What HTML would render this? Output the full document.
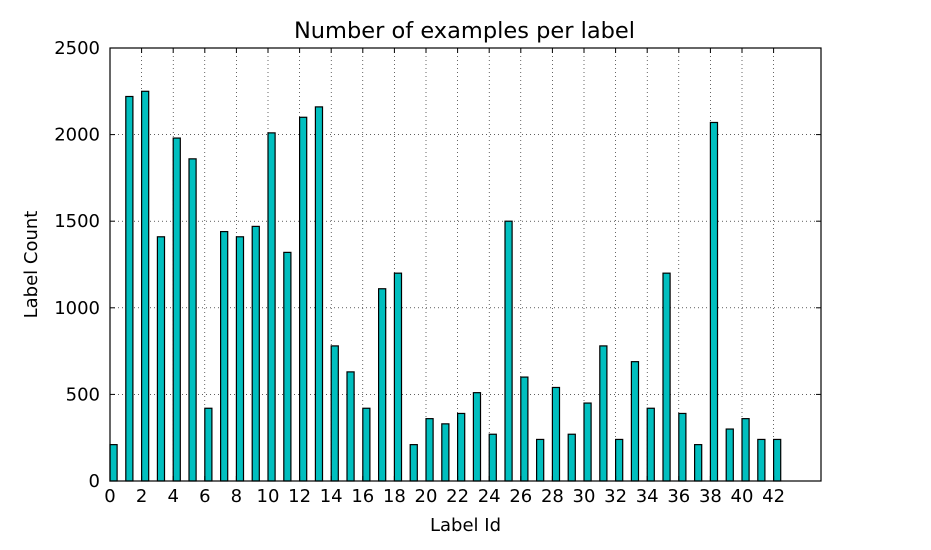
<!DOCTYPE html>
<html><head><meta charset="utf-8"><style>
body{margin:0;background:#fff;font-family:"DejaVu Sans","Liberation Sans",sans-serif}
</style></head><body>
<svg id="chart" width="931" height="546" xmlns="http://www.w3.org/2000/svg"></svg>
<script>
const labels=[0,1,2,3,4,5,6,7,8,9,10,11,12,13,14,15,16,17,18,19,20,21,22,23,24,25,26,27,28,29,30,31,32,33,34,35,36,37,38,39,40,41,42];
const counts=[210,2220,2250,1410,1980,1860,420,1440,1410,1470,2010,1320,2100,2160,780,630,420,1110,1200,210,360,330,390,510,270,1500,600,240,540,270,450,780,240,689,420,1200,390,210,2070,300,360,240,240];
const xTicks=[0,2,4,6,8,10,12,14,16,18,20,22,24,26,28,30,32,34,36,38,40,42];
const yTicks=[0,500,1000,1500,2000,2500];
const L=110,R=821,T=48,B=481,XMAX=45,YMAX=2500;
const x=v=>L+(v/XMAX)*(R-L);
const y=v=>B-(v/YMAX)*(B-T);
const svg=document.getElementById('chart');
const NS='http://www.w3.org/2000/svg';
function mk(tag,attrs,parent){const e=document.createElementNS(NS,tag);for(const k in attrs)e.setAttribute(k,attrs[k]);(parent||svg).appendChild(e);return e;}
const grid=mk('g',{});


xTicks.forEach(t=>{mk('line',{x1:x(t),x2:x(t),y1:T,y2:B,stroke:'#000','stroke-width':0.6,'stroke-dasharray':'1,3'},grid);});
yTicks.forEach(t=>{mk('line',{x1:L,x2:R,y1:y(t),y2:y(t),stroke:'#000','stroke-width':0.6,'stroke-dasharray':'1,3'},grid);});
const bars=mk('g',{});


labels.forEach((l,i)=>{
  const r=mk('rect',{x:x(l),y:y(counts[i]),width:x(0.45)-x(0),height:y(0)-y(counts[i]),fill:'#00bfbf',stroke:'#000','stroke-width':1.2},bars);
  
  
});
const frame=mk('rect',{x:L,y:T,width:R-L,height:B-T,fill:'none',stroke:'#000','stroke-width':1.2});


xTicks.forEach(t=>{
  mk('line',{x1:x(t),x2:x(t),y1:B,y2:B-5,stroke:'#000'});
  mk('line',{x1:x(t),x2:x(t),y1:T,y2:T+5,stroke:'#000'});
  const tx=mk('text',{x:x(t),y:B+21,'text-anchor':'middle','font-size':18});
  tx.textContent=t;
  
  
});
yTicks.forEach(t=>{
  mk('line',{x1:L,x2:L+5,y1:y(t),y2:y(t),stroke:'#000'});
  mk('line',{x1:R,x2:R-5,y1:y(t),y2:y(t),stroke:'#000'});
  const tx=mk('text',{x:L-10,y:y(t)+6,'text-anchor':'end','font-size':18});
  tx.textContent=t;
  
  
});
const title=mk('text',{x:(L+R)/2-1,y:38,'text-anchor':'middle','font-size':22.5});
title.textContent='Number of examples per label';


const xl=mk('text',{x:(L+R)/2,y:531,'text-anchor':'middle','font-size':18});
xl.textContent='Label Id';


const yl=mk('text',{x:0,y:0,'text-anchor':'middle','font-size':18,transform:'translate(37,'+((T+B)/2)+') rotate(-90)'});
yl.textContent='Label Count';


</script>
</body></html>
